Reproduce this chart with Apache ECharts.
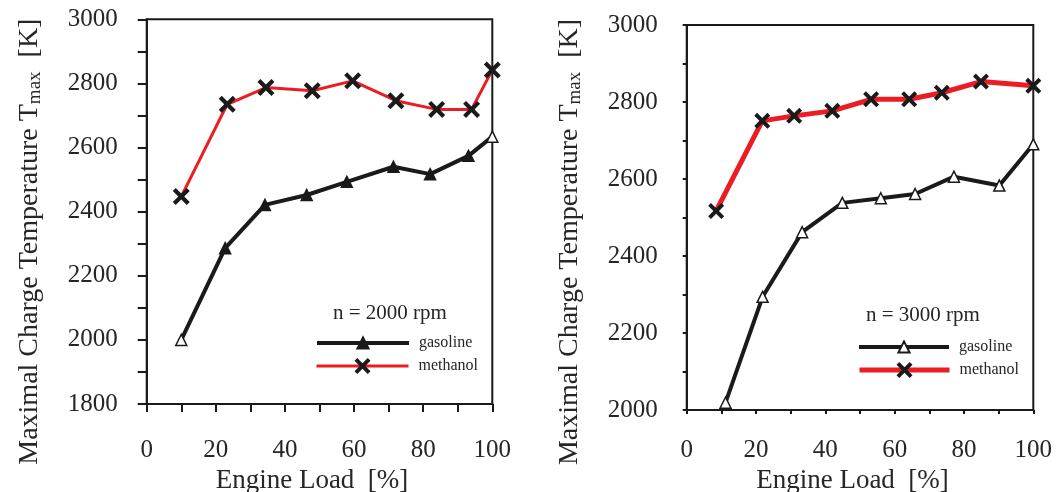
<!DOCTYPE html>
<html>
<head>
<meta charset="utf-8">
<script src="https://cdn.jsdelivr.net/npm/echarts@6/dist/echarts.min.js"></script>
<style>html,body{margin:0;padding:0;background:#fff;}#c{width:1059px;height:492px;}</style>
</head>
<body>
<div id="c"></div>
<script>
// ---- data ----
const leftGasX  = [10, 22.7, 34.2, 46.3, 57.9, 71.4, 82, 93.1, 100];
const leftGasY  = [2000, 2286, 2421, 2452, 2493, 2540, 2517, 2574, 2634];
const leftMethX = [10, 23.3, 34.5, 47.9, 59.6, 72.1, 83.9, 94, 100];
const leftMethY = [2447, 2735, 2787, 2777, 2808, 2746, 2719, 2719, 2842];
const rightGasX  = [11.2, 21.9, 33.3, 44.9, 56, 65.9, 77.1, 90.2, 100];
const rightGasY  = [2019, 2294, 2462, 2538, 2550, 2561, 2606, 2583, 2690];
const rightMethX = [8.5, 21.8, 31, 42, 53.2, 64.2, 73.6, 84.9, 100];
const rightMethY = [2517, 2751, 2764, 2777, 2807, 2807, 2824, 2853, 2842];
const leftTitle = 'n = 2000 rpm';
const rightTitle = 'n = 3000 rpm';
const seriesNames = ['gasoline', 'methanol'];

const pairs = (xs, ys) => xs.map((x, i) => [x, ys[i]]);
const SERIF = '"Liberation Serif", "Times New Roman", serif';
const INK = '#1a1a1a';
const TXT = '#262626';
const RED = '#ec1c24';
const XSYM = 'path://M3.5,0 L10,6.5 L16.5,0 L20,3.5 L13.5,10 L20,16.5 L16.5,20 L10,13.5 L3.5,20 L0,16.5 L6.5,10 L0,3.5 Z';

function xAxis(gridIndex, tickLen, margin, gap) {
  return {
    type: 'value', gridIndex, min: 0, max: 100, interval: 20,
    axisLine: {show: true, lineStyle: {color: INK, width: 2}},
    axisTick: {show: true, length: tickLen, lineStyle: {color: INK, width: 2}},
    minorTick: {show: true, splitNumber: 2, length: tickLen, lineStyle: {color: INK, width: 2}},
    splitLine: {show: false},
    axisLabel: {margin, fontFamily: SERIF, fontSize: 25, color: TXT, formatter: v => String(v)},
    name: 'Engine Load  [%]', nameLocation: 'middle', nameGap: gap,
    nameTextStyle: {fontFamily: SERIF, fontSize: 27, color: TXT, padding: [0, 15, 0, 0]}
  };
}
function yAxis(gridIndex, min, tickLen, gap, shift) {
  return {
    type: 'value', gridIndex, min, max: 3000, interval: 200,
    axisLine: {show: true, lineStyle: {color: INK, width: 2}},
    axisTick: {show: true, length: tickLen, lineStyle: {color: INK, width: 2}},
    minorTick: {show: true, splitNumber: 2, length: tickLen, lineStyle: {color: INK, width: 2}},
    splitLine: {show: false},
    axisLabel: {margin: 29, fontFamily: SERIF, fontSize: 25, color: TXT, formatter: v => String(v)},
    name: 'Maximal Charge Temperature T{sub|max}  [K]', nameLocation: 'middle', nameGap: gap,
    nameTextStyle: {fontFamily: SERIF, fontSize: 28, color: TXT, padding: [0, shift, 0, 0],
      rich: {sub: {fontFamily: SERIF, fontSize: 19, color: TXT, verticalAlign: 'bottom', padding: [12, 0, 0, 0]}}}
  };
}
function gasSeries(name, idx, xs, ys, lw, filledMid) {
  const last = xs.length - 1;
  return {
    name, type: 'line', xAxisIndex: idx, yAxisIndex: idx,
    data: pairs(xs, ys).map((p, i) => ({
      value: p,
      itemStyle: (filledMid && i > 0 && i < last) ? {color: INK} : {color: '#fff'}
    })),
    symbol: 'triangle', symbolSize: 11,
    itemStyle: filledMid ? {color: INK, borderColor: INK, borderWidth: 1.5} : {color: '#fff', borderColor: INK, borderWidth: 1.5},
    lineStyle: {color: INK, width: lw}, z: 3, animation: false
  };
}
function methSeries(name, idx, xs, ys, lw, size) {
  return {
    name, type: 'line', xAxisIndex: idx, yAxisIndex: idx,
    data: pairs(xs, ys),
    symbol: XSYM, symbolSize: size,
    itemStyle: {color: INK, borderWidth: 0},
    lineStyle: {color: RED, width: lw}, z: 4, animation: false
  };
}
function legendOne(left, top, name, itemWidth, itemHeight, lw) {
  return {
    left, top, padding: 0, orient: 'vertical', itemWidth, itemHeight,
    data: [{name, lineStyle: {width: lw}}],
    formatter: n => n.split('|')[0],
    textStyle: {fontFamily: SERIF, fontSize: 16, color: TXT, padding: [0, 0, 0, 5]}
  };
}

const option = {
  backgroundColor: '#fff',
  animation: false,
  title: [
    {text: leftTitle, left: 333, top: 303, padding: 0, textStyle: {fontFamily: SERIF, fontSize: 21, fontWeight: 'normal', color: TXT}},
    {text: rightTitle, left: 866, top: 305, padding: 0, textStyle: {fontFamily: SERIF, fontSize: 21, fontWeight: 'normal', color: TXT}}
  ],
  grid: [
    {left: 146.7, top: 19.3, width: 345.6, height: 384.7, show: true, borderColor: INK, borderWidth: 2, backgroundColor: 'transparent', outerBoundsMode: 'none', containLabel: false},
    {left: 686.7, top: 25, width: 346.6, height: 385, show: true, borderColor: INK, borderWidth: 2, backgroundColor: 'transparent', outerBoundsMode: 'none', containLabel: false}
  ],
  xAxis: [xAxis(0, 8, 34, 60), xAxis(1, 4, 28, 57)],
  yAxis: [yAxis(0, 1800, 9, 102, 60), yAxis(1, 2000, 4, 102, 49)],
  legend: [
    legendOne(315, 335, seriesNames[0] + '|L', 92, 14, 4),
    legendOne(315, 358, seriesNames[1] + '|L', 92, 20, 3),
    legendOne(857, 339, seriesNames[0] + '|R', 90, 14, 4),
    legendOne(857, 362, seriesNames[1] + '|R', 90, 20, 5)
  ],
  series: [
    gasSeries(seriesNames[0] + '|L', 0, leftGasX, leftGasY, 4, true),
    methSeries(seriesNames[1] + '|L', 0, leftMethX, leftMethY, 3, 17),
    gasSeries(seriesNames[0] + '|R', 1, rightGasX, rightGasY, 4, false),
    methSeries(seriesNames[1] + '|R', 1, rightMethX, rightMethY, 5, 16)
  ]
};
const chart = echarts.init(document.getElementById('c'), null, {renderer: 'canvas'});
chart.setOption(option);
</script>
</body>
</html>
